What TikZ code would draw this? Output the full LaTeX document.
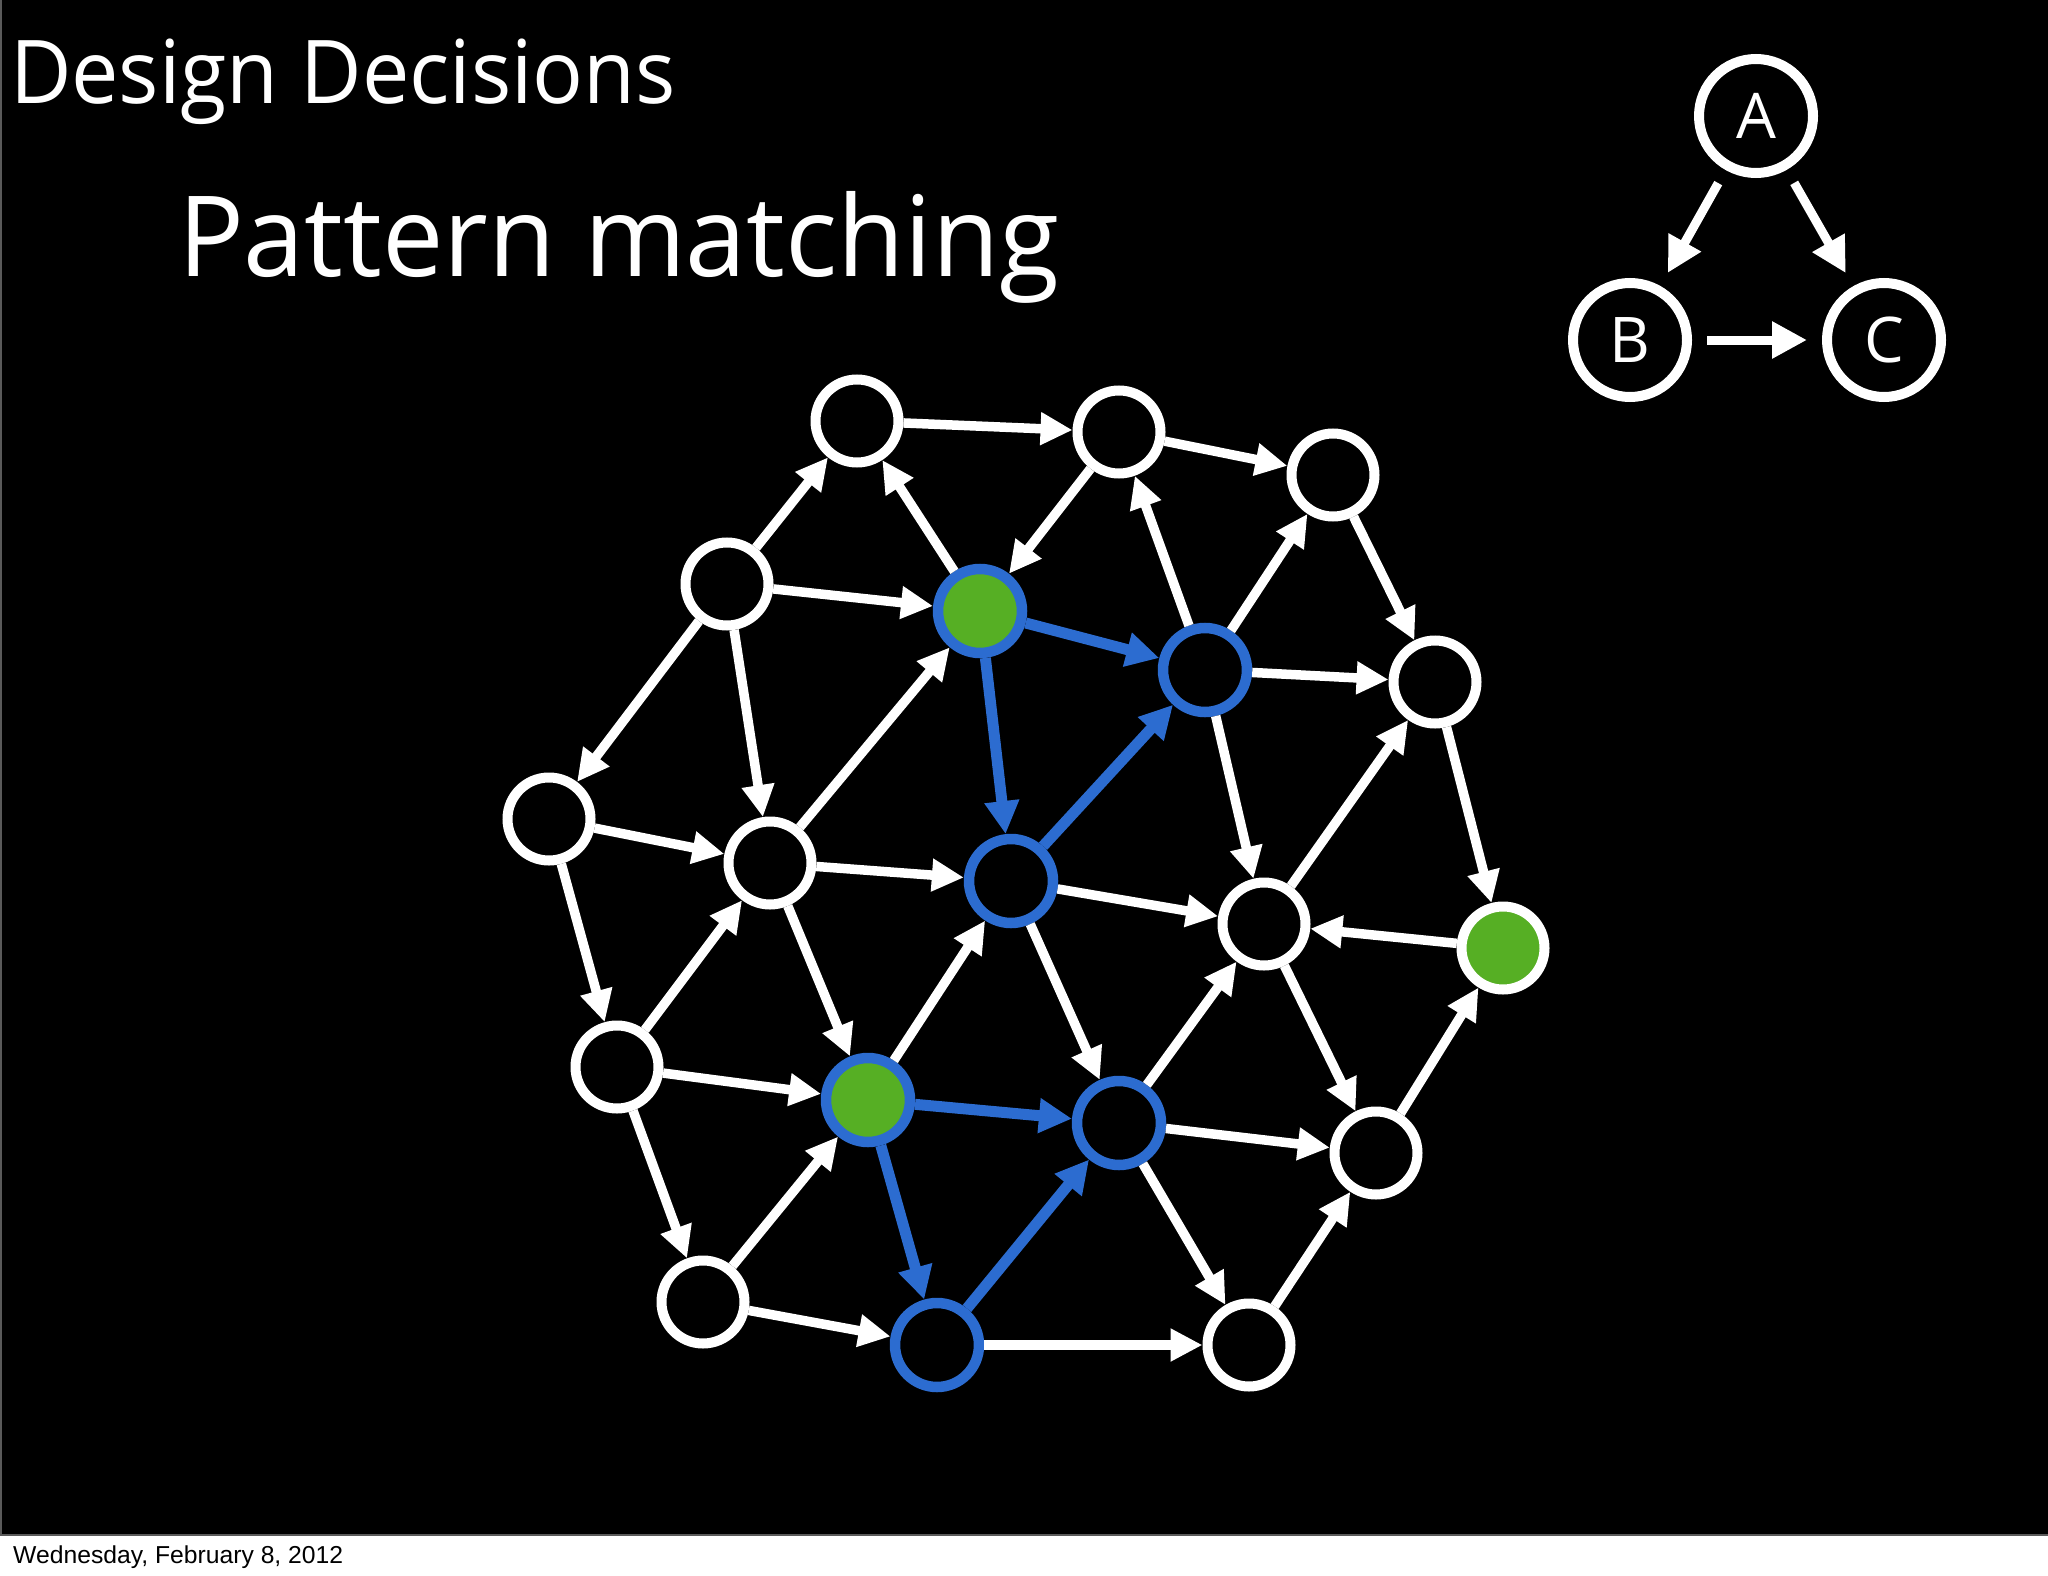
\documentclass[tikz,border=0pt]{standalone}
\usepackage{fontspec}
\setmainfont{Open Sans}
\newfontfamily\datefont{Liberation Sans}
\usetikzlibrary{arrows.meta}
\definecolor{hlblue}{HTML}{2C6CD0}
\definecolor{hlgreen}{HTML}{56AF24}
\definecolor{framegray}{HTML}{5A5A5A}
\tikzset{
  vtx/.style={circle, draw=white, fill=black, line width=10pt, minimum size=83pt, inner sep=0pt},
  vhl/.style={circle, draw=hlblue, fill=black, line width=10.5pt, minimum size=84pt, inner sep=0pt},
  vgreen/.style={vhl, fill=hlgreen},
  vgreenw/.style={vtx, fill=hlgreen},
  wedge/.style={draw=white, line width=9.5pt, -{Triangle[length=32pt,width=31pt]}},
  bedge/.style={draw=hlblue, line width=11pt, -{Triangle[length=33pt,width=33pt]}},
  abcnode/.style={circle, draw=white, fill=black, line width=10pt, minimum size=114pt, inner sep=0pt, font=\fontsize{63}{63}\selectfont, text=white},
  abcedge/.style={draw=white, line width=9pt, -{Triangle[length=35pt,width=35pt]}, shorten <=15pt, shorten >=15pt},
  txt/.style={anchor=base west, inner sep=0pt, outer sep=0pt, text=white},
}
\begin{document}
\begin{tikzpicture}[x=1pt,y=-1pt]
\useasboundingbox (0,0) rectangle (2048,1576);
\fill[white] (0,0) rectangle (2048,1576);
\fill[black] (0,0) rectangle (2048,1536);
\draw[framegray, line width=2pt] (0,1535) -- (2048,1535);
\draw[framegray, line width=1.5pt] (0.75,0) -- (0.75,1536);

% titles
\node[txt] (title) at (10,104) {\resizebox{666pt}{\height}{\fontsize{88}{88}\selectfont Design Decisions}};
\node[txt] (subtitle) at (178,276) {\resizebox{882pt}{\height}{\fontsize{112}{112}\selectfont Pattern matching}};
\node[anchor=base west, inner sep=0pt, text=black] (date) at (13,1563) {\resizebox{330pt}{\height}{\datefont\fontsize{24.5}{24.5}\selectfont Wednesday, February 8, 2012}};

% pattern A->B, A->C, B->C
\node[abcnode] (A) at (1756,116) {A};
\node[abcnode] (B) at (1630,340) {B};
\node[abcnode] (C) at (1884,340) {C};
\draw[abcedge] (A) -- (B);
\draw[abcedge] (A) -- (C);
\draw[abcedge] (B) -- (C);

% graph nodes
\node[vtx] (n1) at (857,421) {};
\node[vtx] (n2) at (1119,432) {};
\node[vtx] (n3) at (1333,475) {};
\node[vtx] (n4) at (727,584) {};
\node[vgreen] (g1) at (980,611) {};
\node[vhl] (b1) at (1205,670) {};
\node[vtx] (n5) at (1435,682) {};
\node[vtx] (n6) at (549,819) {};
\node[vtx] (n7) at (770,863) {};
\node[vhl] (b2) at (1011,881) {};
\node[vtx] (n8) at (1264,924) {};
\node[vgreenw] (g2) at (1503,948) {};
\node[vtx] (n9) at (617,1067) {};
\node[vgreen] (g3) at (868,1100) {};
\node[vhl] (b3) at (1119,1123) {};
\node[vtx] (n10) at (1376,1153) {};
\node[vtx] (n11) at (703,1302) {};
\node[vhl] (b4) at (937,1345) {};
\node[vtx] (n12) at (1249,1345) {};

% white edges
\foreach \a/\b in {n1/n2, n2/n3, n4/n1, g1/n1, n2/g1, b1/n2, b1/n3, n3/n5,
  n4/g1, b1/n5, n4/n6, n4/n7, n7/g1, b1/n8, n8/n5, n5/g2, n6/n7, n7/b2,
  b2/n8, g2/n8, n6/n9, n9/n7, n7/g3, g3/b2, b2/b3, b3/n8, n8/n10, n10/g2,
  n9/g3, b3/n10, n9/n11, n11/g3, b3/n12, n12/n10, n11/b4, b4/n12}
  \draw[wedge] (\a) -- (\b);

% blue edges
\foreach \a/\b in {g1/b1, g1/b2, b2/b1, g3/b3, g3/b4, b4/b3}
  \draw[bedge] (\a) -- (\b);
\end{tikzpicture}
\end{document}
